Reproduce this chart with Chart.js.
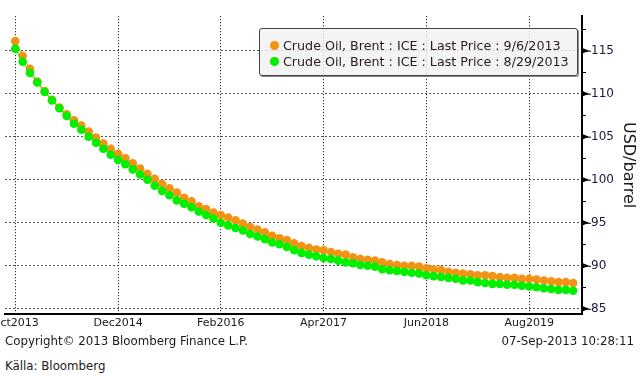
<!DOCTYPE html>
<html>
<head>
<meta charset="utf-8">
<script src="https://cdn.jsdelivr.net/npm/chart.js@4.4.1/dist/chart.umd.min.js"></script>
<style>
  html, body { margin: 0; padding: 0; background: #fff; overflow: hidden; width: 642px; height: 376px; }
  #wrap { position: absolute; left: -40px; top: 0; width: 682px; height: 340px; }
  .txt { position: absolute; font-family: "DejaVu Sans", sans-serif; font-size: 11.8px; color: #1a1a1a; white-space: nowrap; }
  #legend { position: absolute; left: 259px; top: 28px; width: 317px; height: 46px;
            background: rgba(242,242,242,0.82); border: 1px solid #444; border-radius: 3px;
            box-shadow: 1px 1px 0 #888; }
  .lg { position: absolute; left: 23px; font-family: "DejaVu Sans", sans-serif; font-size: 12.7px; color: #2a1a1a; white-space: nowrap; line-height: 15px; }
  .dot { position: absolute; left: -13px; top: 3px; width: 9px; height: 9px; border-radius: 50%; }
</style>
</head>
<body>
<div id="wrap"><canvas id="c" width="682" height="340"></canvas></div>
<div id="legend"></div>
<div class="txt" style="left:5px; top:334px;">Copyright© 2013 Bloomberg Finance L.P.</div>
<div class="txt" style="right:8px; top:334px;">07-Sep-2013 10:28:11</div>
<div class="txt" style="left:5px; top:359px;">Källa: Bloomberg</div>
<script>
// ---- data ----
const months = [
  "Oct2013","Nov2013","Dec2013",
  "Jan2014","Feb2014","Mar2014","Apr2014","May2014","Jun2014","Jul2014","Aug2014","Sep2014","Oct2014","Nov2014","Dec2014",
  "Jan2015","Feb2015","Mar2015","Apr2015","May2015","Jun2015","Jul2015","Aug2015","Sep2015","Oct2015","Nov2015","Dec2015",
  "Jan2016","Feb2016","Mar2016","Apr2016","May2016","Jun2016","Jul2016","Aug2016","Sep2016","Oct2016","Nov2016","Dec2016",
  "Jan2017","Feb2017","Mar2017","Apr2017","May2017","Jun2017","Jul2017","Aug2017","Sep2017","Oct2017","Nov2017","Dec2017",
  "Jan2018","Feb2018","Mar2018","Apr2018","May2018","Jun2018","Jul2018","Aug2018","Sep2018","Oct2018","Nov2018","Dec2018",
  "Jan2019","Feb2019","Mar2019","Apr2019","May2019","Jun2019","Jul2019","Aug2019","Sep2019","Oct2019","Nov2019","Dec2019",
  "Jan2020","Feb2020"
];
const tickLabels = ["Oct2013","Dec2014","Feb2016","Apr2017","Jun2018","Aug2019"];
const yTicks = [85, 90, 95, 100, 105, 110, 115];
const yMinorTicks = [87.5, 92.5, 97.5, 102.5, 107.5, 112.5, 117.5];

const seriesNames = [
  "Crude Oil, Brent : ICE : Last Price : 9/6/2013",
  "Crude Oil, Brent : ICE : Last Price : 8/29/2013"
];
const price_2013_09_06 = [
  116.1,114.4,112.9,111.4,110.3,109.3,108.4,107.6,106.9,106.3,105.6,104.9,104.2,103.6,103.0,
  102.5,101.9,101.3,100.7,100.1,99.5,99.0,98.5,97.9,97.5,96.9,96.6,
  96.2,95.9,95.6,95.3,94.9,94.5,94.2,93.9,93.5,93.2,93.0,92.6,
  92.3,92.1,91.9,91.8,91.6,91.4,91.3,91.0,90.8,90.7,90.6,90.4,
  90.2,90.1,90.0,90.0,89.9,89.7,89.6,89.5,89.3,89.2,89.1,89.0,
  88.9,88.9,88.8,88.7,88.6,88.6,88.5,88.5,88.4,88.3,88.2,88.1,
  88.1,88.0
];
const price_2013_08_29 = [
  115.2,113.7,112.4,111.3,110.2,109.2,108.3,107.4,106.5,105.8,105.0,104.3,103.6,102.9,102.3,
  101.8,101.2,100.6,100.0,99.3,98.7,98.2,97.6,97.2,96.8,96.3,95.9,
  95.5,95.0,94.7,94.4,94.1,93.7,93.4,93.1,92.7,92.5,92.2,91.8,
  91.5,91.3,91.1,90.9,90.8,90.6,90.4,90.3,90.1,90.0,89.9,89.6,
  89.5,89.4,89.3,89.2,89.1,88.9,88.8,88.7,88.6,88.5,88.3,88.3,
  88.1,88.0,87.9,87.9,87.8,87.8,87.7,87.6,87.5,87.4,87.3,87.2,
  87.2,87.1
];
const colors = ["#F39314", "#00F000"];

// ---- legend (HTML) ----
const legendEl = document.getElementById('legend');
seriesNames.forEach((n, i) => {
  const d = document.createElement('div');
  d.className = 'lg';
  d.style.top = (9 + i * 16) + 'px';
  d.innerHTML = '<span class="dot" style="background:' + colors[i] + '"></span>';
  d.appendChild(document.createTextNode(n));
  legendEl.appendChild(d);
});

// ---- chart ----
const toXY = arr => arr.map((v, i) => ({x: i, y: v}));
const FONT = {family: "DejaVu Sans", size: 11};

const yMarks = {
  id: 'yMarks',
  afterDraw(chart) {
    const y = chart.scales.y, ctx = chart.ctx;
    const x0 = y.left + 1;
    ctx.save();
    ctx.fillStyle = '#000'; ctx.strokeStyle = '#000'; ctx.lineWidth = 1;
    yTicks.forEach(v => {
      const py = y.getPixelForValue(v);
      ctx.beginPath();
      ctx.moveTo(x0, py - 2.5); ctx.lineTo(x0 + 6, py); ctx.lineTo(x0, py + 2.5);
      ctx.closePath(); ctx.fill();
      ctx.beginPath(); ctx.moveTo(x0, py + 0.5); ctx.lineTo(x0 + 8, py + 0.5); ctx.stroke();
    });
    yMinorTicks.forEach(v => {
      const py = Math.round(y.getPixelForValue(v)) + 0.5;
      ctx.beginPath(); ctx.moveTo(x0, py); ctx.lineTo(x0 + 3, py); ctx.stroke();
    });
    ctx.restore();
  }
};

new Chart(document.getElementById('c'), {
  type: 'line',
  data: {
    datasets: [
      { label: seriesNames[1], data: toXY(price_2013_08_29), borderColor: colors[1], backgroundColor: colors[1],
        borderWidth: 1, pointRadius: 4.3, pointBorderWidth: 0, pointBackgroundColor: colors[1], tension: 0, clip: false },
      { label: seriesNames[0], data: toXY(price_2013_09_06), borderColor: colors[0], backgroundColor: colors[0],
        borderWidth: 1, pointRadius: 4.3, pointBorderWidth: 0, pointBackgroundColor: colors[0], tension: 0, clip: false }
    ]
  },
  options: {
    responsive: false,
    animation: false,
    events: [],
    layout: { padding: { top: 5, left: 45, right: 0, bottom: 0 } },
    plugins: { legend: { display: false }, tooltip: { enabled: false } },
    scales: {
      x: {
        type: 'linear', position: 'bottom', min: -1.4, max: 77.2,
        afterBuildTicks: s => { s.ticks = tickLabels.map(l => ({ value: months.indexOf(l) })); },
        afterFit: s => { s.height = 26; },
        ticks: { callback: v => months[v] || '', color: '#1a1a1a', font: FONT, padding: 3, maxRotation: 0, autoSkip: false },
        grid: { color: '#000', lineWidth: 1, drawTicks: false },
        border: { display: true, color: '#000', width: 2, dash: [1, 2] }
      },
      y: {
        type: 'linear', position: 'right', min: 84.4, max: 119,
        afterBuildTicks: s => { s.ticks = yTicks.map(v => ({ value: v })); },
        afterFit: s => { s.width = 60; },
        ticks: { callback: v => String(v), color: '#1a1a3a', font: {family: "DejaVu Sans", size: 12}, padding: 9 },
        grid: { color: '#555', lineWidth: 1, drawTicks: false },
        border: { display: true, color: '#000', width: 2, dash: [2, 2] },
        title: { display: true, text: 'USD/barrel', color: '#1a1a1a', font: {family: "DejaVu Sans", size: 16}, padding: { top: 4, bottom: 0 } }
      }
    }
  },
  plugins: [yMarks]
});
</script>
</body>
</html>
